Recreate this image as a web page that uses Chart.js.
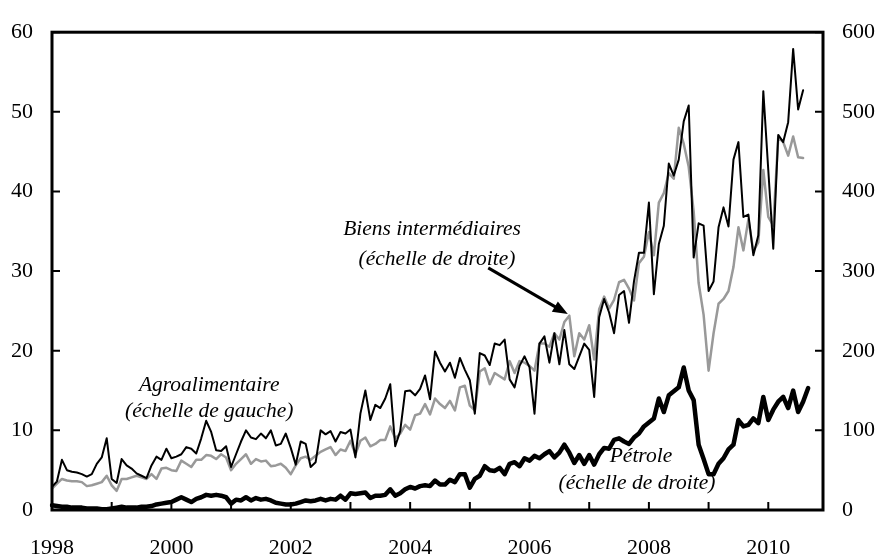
<!DOCTYPE html>
<html>
<head>
<meta charset="utf-8">
<script src="https://cdn.jsdelivr.net/npm/chart.js@4"></script>
<style>
  body { margin: 0; background: #fff; }
  #wrap { width: 880px; height: 557px; }
</style>
</head>
<body>
<div id="wrap"><canvas id="chart"></canvas></div>
<script>
// monthly data, Jan 1998 onwards
const years = [1998, 1999, 2000, 2001, 2002, 2003, 2004, 2005, 2006, 2007, 2008, 2009, 2010];
const months = [];
years.forEach(y => { for (let m = 1; m <= 12; m++) months.push(y + '-' + (m < 10 ? '0' + m : m)); });

// Agroalimentaire (échelle de gauche)
const agro = [
  2.9, 3.6, 6.3, 5.0, 4.8, 4.7, 4.5, 4.2, 4.5, 5.8, 6.6, 9.0,
  3.9, 3.4, 6.4, 5.6, 5.2, 4.6, 4.3, 4.0, 5.6, 6.7, 6.3, 7.7,
  6.5, 6.7, 7.0, 7.9, 7.7, 7.1, 9.0, 11.2, 9.8, 7.5, 7.4, 8.0,
  5.4, 7.0, 8.6, 10.0, 9.1, 8.9, 9.6, 9.0, 10.0, 8.1, 8.3, 9.6,
  7.8, 5.7, 8.6, 8.3, 5.4, 6.0, 10.0, 9.5, 9.9, 8.6, 9.8, 9.6,
  10.1, 6.6, 12.1, 15.0, 11.3, 13.2, 12.8, 14.0, 15.8, 8.0, 9.9, 14.9,
  15.0, 14.4, 15.2, 16.9, 13.9, 19.9, 18.5, 17.4, 18.5, 16.6, 19.1, 17.6,
  16.3, 12.1, 19.7, 19.4, 18.2, 20.9, 20.7, 21.4, 16.4, 15.4, 18.1, 19.3,
  17.9, 12.1, 20.9, 21.8, 18.5, 22.2, 18.3, 22.6, 18.3, 17.7, 19.3, 20.9,
  20.1, 14.2, 24.2, 26.5, 24.8, 22.2, 27.0, 27.5, 23.5, 28.7, 32.3, 32.3,
  38.6, 27.1, 33.4, 35.7, 43.5, 42.0, 44.0, 48.8, 50.8, 31.7, 36.0, 35.7,
  27.5, 28.7, 35.5, 38.0, 35.6, 44.0, 46.2, 36.8, 37.1, 32.0, 34.5, 52.6,
  42.7, 32.8, 47.1, 46.2, 48.7, 57.9, 50.3, 52.7
];

// Biens intermédiaires (échelle de droite)
const biens = [
  27, 33, 39, 37, 36, 36, 35, 30, 31, 33, 35, 43,
  31, 24, 39, 39, 41, 43, 41, 39, 45, 39, 52, 53,
  50, 49, 62, 58, 54, 63, 63, 69, 68, 64, 70, 66,
  50, 58, 64, 70, 58, 64, 61, 62, 55, 56, 58, 53,
  45, 56, 65, 67, 63, 68, 73, 76, 79, 69, 76, 74,
  87, 70, 87, 91, 80, 83, 88, 88, 105, 90, 96, 107,
  101, 119, 121, 133, 120, 140, 133, 128, 137, 125, 154, 156,
  131, 125, 174, 178, 158, 172, 168, 164, 187, 172, 187, 185,
  181, 175, 209, 209, 205, 222, 214, 236, 244, 193, 222, 214,
  232, 189, 252, 268, 253, 264, 286, 289, 278, 263, 310, 318,
  349, 320, 386, 398, 423, 416, 480, 460, 431, 375, 285, 245,
  175, 222, 259, 265, 275, 305, 355, 326, 365, 325, 336, 427,
  368, 357, 468, 462, 445, 469, 443, 442
];

// Pétrole (échelle de droite)
const petrole = [
  6, 5, 4, 4, 3, 3, 3, 2, 2, 2, 1, 1,
  2, 3, 4, 3, 3, 3, 4, 4, 5, 7, 8, 9,
  10, 13, 16, 13, 10, 14, 16, 19, 18, 19, 18, 16,
  8, 13, 12, 16, 12, 15, 13, 14, 12, 9, 8, 7,
  7, 8, 10, 12, 11, 12, 14, 12, 14, 13, 18, 13,
  21, 20, 21, 22, 15, 18, 18, 19, 26, 18, 21, 26,
  29, 27, 30, 31, 30, 37, 32, 32, 38, 35, 45, 45,
  28, 39, 43, 55, 50, 49, 53, 45, 58, 60, 55, 65,
  62, 68, 65, 70, 74, 66, 72, 82, 72, 59, 69, 58,
  69, 57, 70, 78, 77, 88, 90, 86, 83, 91, 96, 105,
  110, 115, 140, 123, 144, 149, 154, 179, 150, 138, 82, 64,
  45, 45, 58, 65, 76, 82, 113, 105, 107, 115, 109, 142,
  113, 126, 136, 142, 128, 150, 123, 136, 153
];

const serif = '"Liberation Serif", "Times New Roman", serif';

// frame, inward tick marks and text labels
const decor = {
  id: 'decor',
  afterDatasetsDraw(chart) {
    const { ctx, chartArea: a, scales } = chart;
    const x = scales.x, yl = scales.y, yr = scales.y1;
    ctx.save();
    ctx.strokeStyle = '#000';
    ctx.lineWidth = 2;
    ctx.beginPath();
    months.forEach((m, i) => {
      if (i > 0 && i % 12 === 0) {
        const px = x.getPixelForValue(i);
        ctx.moveTo(px, a.bottom); ctx.lineTo(px, a.bottom - 8);
      }
    });
    yl.ticks.forEach(t => {
      const py = yl.getPixelForValue(t.value);
      ctx.moveTo(a.left, py); ctx.lineTo(a.left + 8, py);
    });
    yr.ticks.forEach(t => {
      const py = yr.getPixelForValue(t.value);
      ctx.moveTo(a.right, py); ctx.lineTo(a.right - 8, py);
    });
    ctx.stroke();

    ctx.lineWidth = 3;
    ctx.strokeRect(a.left, a.top, a.right - a.left, a.bottom - a.top);

    // text labels, placed in (month index, left-scale value)
    const P = (m, v) => [x.getPixelForValue(m), yl.getPixelForValue(v)];
    ctx.fillStyle = '#000';
    ctx.font = 'italic 21.5px ' + serif;
    ctx.textAlign = 'center';
    ctx.textBaseline = 'middle';
    const texts = [
      ['Agroalimentaire', 31.6, 15.6],
      ['(échelle de gauche)', 31.6, 12.4],
      ['Biens intermédiaires', 76.4, 35.2],
      ['(échelle de droite)', 77.4, 31.5],
      ['Pétrole', 118.4, 6.8],
      ['(échelle de droite)', 117.6, 3.3]
    ];
    texts.forEach(([s, m, v]) => { const [px, py] = P(m, v); ctx.fillText(s, px, py); });

    // arrow to the Biens intermédiaires line
    const [x0, y0] = P(87.7, 30.4), [x1, y1] = P(103.7, 24.6);
    const ang = Math.atan2(y1 - y0, x1 - x0);
    ctx.lineWidth = 3;
    ctx.beginPath();
    ctx.moveTo(x0, y0);
    ctx.lineTo(x1 - 10 * Math.cos(ang), y1 - 10 * Math.sin(ang));
    ctx.stroke();
    ctx.beginPath();
    ctx.moveTo(x1, y1);
    ctx.lineTo(x1 - 15 * Math.cos(ang) + 6 * Math.sin(ang), y1 - 15 * Math.sin(ang) - 6 * Math.cos(ang));
    ctx.lineTo(x1 - 15 * Math.cos(ang) - 6 * Math.sin(ang), y1 - 15 * Math.sin(ang) + 6 * Math.cos(ang));
    ctx.closePath();
    ctx.fill();
    ctx.restore();
  }
};

new Chart(document.getElementById('chart'), {
  type: 'line',
  data: {
    labels: months,
    datasets: [
      { label: 'Pétrole', data: petrole, yAxisID: 'y1', borderColor: '#000', borderWidth: 4.5 },
      { label: 'Agroalimentaire', data: agro, yAxisID: 'y', borderColor: '#000', borderWidth: 2 },
      { label: 'Biens intermédiaires', data: biens, yAxisID: 'y1', borderColor: '#999', borderWidth: 2.5 }
    ]
  },
  options: {
    responsive: true,
    maintainAspectRatio: false,
    animation: false,
    layout: { padding: { top: 23, left: 0, right: 0, bottom: 0 } },
    elements: { point: { radius: 0 }, line: { tension: 0, borderJoinStyle: 'round', borderCapStyle: 'round' } },
    plugins: { legend: { display: false }, tooltip: { enabled: false } },
    scales: {
      x: {
        type: 'category',
        offset: false,
        grid: { display: false, drawTicks: false },
        border: { display: false },
        afterFit: s => { s.height = 47; },
        ticks: {
          autoSkip: false, maxRotation: 0, padding: 25, color: '#000',
          font: { family: serif, size: 22 },
          callback: (v, i) => i % 24 === 0 ? months[i].slice(0, 4) : null
        }
      },
      y: {
        position: 'left', min: 0, max: 60,
        grid: { display: false, drawTicks: false },
        border: { display: false },
        afterFit: s => { s.width = 52; },
        ticks: { stepSize: 10, padding: 19, color: '#000', font: { family: serif, size: 22 } }
      },
      y1: {
        position: 'right', min: 0, max: 600,
        grid: { display: false, drawTicks: false },
        border: { display: false },
        afterFit: s => { s.width = 57; },
        ticks: { stepSize: 100, padding: 19, color: '#000', font: { family: serif, size: 22 } }
      }
    }
  },
  plugins: [decor]
});
</script>
</body>
</html>
